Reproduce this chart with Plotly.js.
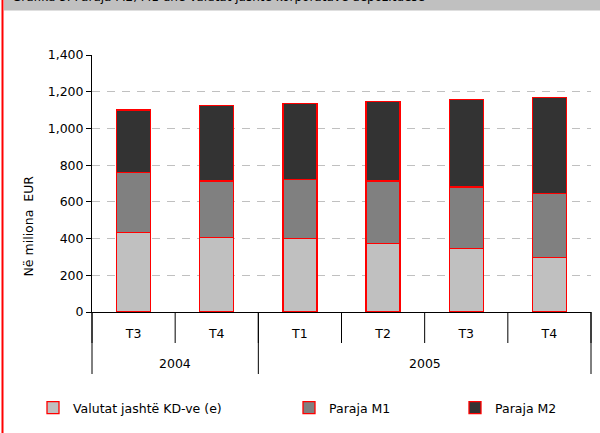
<!DOCTYPE html>
<html>
<head>
<meta charset="utf-8">
<script src="https://cdn.plot.ly/plotly-3.0.1.min.js"></script>
<style>
  html, body { margin: 0; padding: 0; background: #ffffff; }
  #chart { width: 600px; height: 433px; }
</style>
</head>
<body>
<div id="chart"></div>
<script>
// ---- data ----
const years = ["2004", "2004", "2005", "2005", "2005", "2005"];
const quarters = ["T3", "T4", "T1", "T2", "T3", "T4"];
const valutat = [434, 405, 401, 372, 347, 298];      // Valutat jashtë KD-ve (e)
const parajaM1 = [327, 308, 320, 341, 334, 348];     // Paraja M1 segment
const parajaM2 = [339, 413, 416, 435, 476, 521];     // Paraja M2 segment
const seriesNames = ["Valutat jashtë KD-ve (e)", "Paraja M1", "Paraja M2"];
const chartTitle = "Grafiku 5. Paraja M2, M1 dhe Valutat jashtë korporatave depozituese";
const yTitle = "Në miliona\u00a0\u00a0EUR";

// ---- layout geometry (pixels) ----
const W = 600, H = 433;
const L = 92, R = 9, T = 55, B = 121;
const pw = W - L - R, ph = H - T - B;
const px = x => (x - L) / pw;          // pixel x -> paper x
const py = y => (H - B - y) / ph;      // pixel y -> paper y

const FONT = "DejaVu Sans, Verdana, sans-serif";
const FS = 12.5;
const colors = ["#c0c0c0", "#808080", "#333333"];
const values = [valutat, parajaM1, parajaM2];
const legendIds = ["legend", "legend2", "legend3"];
const keys = quarters.map((q, i) => years[i] + " " + q);
const n = keys.length;

const traces = values.map((v, i) => ({
  type: "bar",
  name: seriesNames[i],
  x: keys,
  y: v,
  width: 0.41,
  marker: { color: colors[i], line: { color: "#ff0000", width: 1.3 } },
  legend: legendIds[i],
  hoverinfo: "skip"
}));

const shapes = [];
const annotations = [];
// inner category boundaries
for (let k = 0; k <= n; k++) {
  shapes.push({
    type: "line", xref: "paper", yref: "paper",
    x0: k / n, x1: k / n, y0: 0, y1: py(343),
    line: { color: "#000000", width: 1 }
  });
}
// year groups: dividers and labels
let start = 0;
for (let i = 1; i <= n; i++) {
  if (i === n || years[i] !== years[start]) {
    shapes.push({
      type: "line", xref: "paper", yref: "paper",
      x0: start / n, x1: start / n, y0: 0, y1: py(374),
      line: { color: "#000000", width: 1 }
    });
    annotations.push({
      text: years[start], xref: "paper", yref: "paper",
      x: (start + i) / 2 / n, y: py(363), xanchor: "center", yanchor: "middle",
      showarrow: false, font: { family: FONT, size: FS, color: "#000" }
    });
    start = i;
  }
}
shapes.push({
  type: "line", xref: "paper", yref: "paper",
  x0: 1, x1: 1, y0: 0, y1: py(374),
  line: { color: "#000000", width: 1 }
});
// title strip
shapes.push({
  type: "rect", xref: "paper", yref: "paper", layer: "below",
  x0: px(4), x1: px(601), y0: py(-1), y1: py(10.5),
  fillcolor: "#c0c0c0", line: { width: 0 }
});
// left red frame line
shapes.push({
  type: "line", xref: "paper", yref: "paper",
  x0: px(2.5), x1: px(2.5), y0: py(-2), y1: py(436),
  line: { color: "#ff0000", width: 2 }
});

annotations.push({
  text: yTitle, xref: "paper", yref: "paper",
  x: px(27.5), y: py(226), textangle: -90,
  showarrow: false, font: { family: FONT, size: FS, color: "#000" },
  xanchor: "center", yanchor: "middle"
});
annotations.push({
  text: chartTitle, xref: "paper", yref: "paper",
  x: px(10), y: py(6), xanchor: "left", yanchor: "bottom",
  showarrow: false, font: { family: FONT, size: 12, color: "#000" }
});

const legendBase = {
  orientation: "h", yanchor: "middle", xanchor: "left",
  bgcolor: "rgba(0,0,0,0)", font: { family: FONT, size: FS, color: "#000" }
};

const layout = {
  width: W, height: H,
  margin: { l: L, r: R, t: T, b: B },
  paper_bgcolor: "#ffffff", plot_bgcolor: "#ffffff",
  barmode: "stack",
  font: { family: FONT, size: FS, color: "#000000" },
  xaxis: {
    type: "category",
    tickmode: "array", tickvals: keys, ticktext: quarters,
    range: [-0.5, n - 0.5],
    showline: true, linecolor: "#000000", linewidth: 1,
    ticks: "", showgrid: false, zeroline: false,
    ticklabelstandoff: 10,
    tickfont: { family: FONT, size: FS, color: "#000" }
  },
  yaxis: {
    range: [0, 1400], dtick: 200, tickformat: ",",
    showline: true, linecolor: "#000000", linewidth: 1,
    ticks: "outside", ticklen: 5, tickcolor: "#000000",
    showgrid: true, gridcolor: "#c0c0c0", gridwidth: 1, griddash: "8px,7px",
    zeroline: false,
    tickfont: { family: FONT, size: FS, color: "#000" }
  },
  showlegend: true,
  legend: Object.assign({}, legendBase, { x: px(33), y: py(408) }),
  legend2: Object.assign({}, legendBase, { x: px(289), y: py(408) }),
  legend3: Object.assign({}, legendBase, { x: px(455), y: py(408) }),
  shapes: shapes,
  annotations: annotations
};

Plotly.newPlot("chart", traces, layout, { displayModeBar: false, staticPlot: true });
</script>
</body>
</html>
